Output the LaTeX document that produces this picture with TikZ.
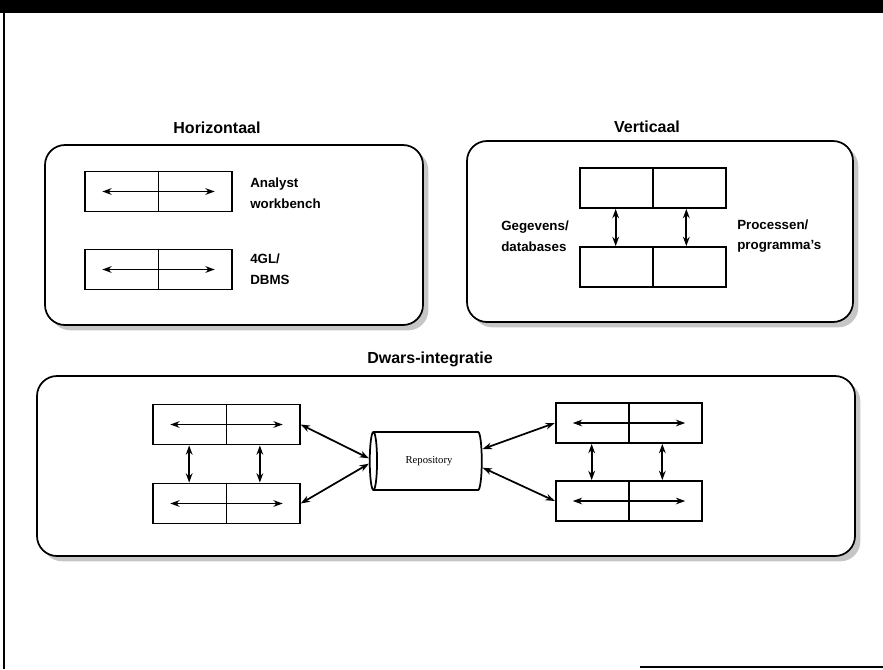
\documentclass[tikz,border=0pt]{standalone}
\usepackage{fontspec}
\setmainfont{Liberation Sans}
\newfontfamily\repfont{Liberation Serif}
\usetikzlibrary{shapes.geometric,shadows,arrows.meta}

\begin{document}
\begin{tikzpicture}
    [x = .75pt, y = -.75pt, >={Stealth[length=7pt,width=5pt]},
     blok/.style = {draw, line width=1.3pt, minimum width=110pt, minimum height=30pt},
     paneel/.style = {draw, line width=1.3pt, rounded corners=15pt, fill=white,
       drop shadow={shadow xshift=4pt, shadow yshift=-4pt, fill=gray!45, opacity=1}},
     kop/.style = {font=\bfseries\fontsize{12}{14}\selectfont},
     tekst/.style = {font=\bfseries\fontsize{10}{15.5}\selectfont, align=left, anchor=west, inner sep=0pt},
     pijl/.style = {<->, line width=1.3pt}]
    \useasboundingbox (0,0) rectangle (883,669);

    % kader
    \fill (0,0) rectangle (883,13);
    \draw[line width=1.5pt] (4,13) -- (4,669);
    \draw[line width=1.5pt] (640,667) -- (883,667);

    % panelen
    \path[paneel] (45,145) rectangle (423,325);
    \path[paneel] (467,141) rectangle (853,322);
    \path[paneel] (37,376) rectangle (855,556);

    \node[kop] (hkop) at (217,128) {Horizontaal};
    \node[kop] (vkop) at (647,127) {Verticaal};
    \node[kop] (dkop) at (430,359) {Dwars-integratie};

    \node[blok] (h1) at (158.5,191.5) {};
    \node[blok] (h2) at (158.5,269.5) {};
    \node[blok] (v1) at (653,188) {};
    \node[blok] (v2) at (653,267) {};
    \node[blok] (d1) at (226.5,424.5) {};
    \node[blok] (d2) at (226.5,503.5) {};
    \node[blok] (d3) at (629,423) {};
    \node[blok] (d4) at (629,501) {};
    \node[cylinder, draw, line width=1.3pt, shape border rotate=180, aspect=.4,
      minimum width=43.5pt, minimum height=84pt,
      font=\repfont\fontsize{8}{9}\selectfont] (rep) at (429,461) {Repository};

    \node[tekst] (hl1) at (250,193) {Analyst\\workbench};
    \node[tekst] (hl2) at (250,269) {4GL/\\DBMS};
    \node[tekst] (vl1) at (501,236) {Gegevens/\\databases};
    \node[tekst] (vl2) at (737,236) {Processen/\\programma's};

    \foreach \b in {h1,h2,v1,v2,d1,d2,d3,d4}
      \draw[line width=1.3pt] (\b.north) -- (\b.south);
    \foreach \b in {h1,h2,d1,d2,d3,d4}
      \draw[pijl] ([xshift=13.5pt]\b.west) -- ([xshift=-13.5pt]\b.east);
    \foreach \from/ \to in {v1/v2,d1/d2,d3/d4} {
      \draw[pijl] ([xshift=-28pt]\from.south) -- ([xshift=-28pt]\to.north);
      \draw[pijl] ([xshift=25pt]\from.south) -- ([xshift=25pt]\to.north);
    }

    \draw[pijl] (d1.east) -- ([yshift=2pt]rep.west);
    \draw[pijl] (d2.east) -- ([yshift=-2pt]rep.west);
    \draw[pijl] (d3.west) -- ([yshift=9pt]rep.east);
    \draw[pijl] (d4.west) -- ([yshift=-5pt]rep.east);
\end{tikzpicture}
\end{document}
